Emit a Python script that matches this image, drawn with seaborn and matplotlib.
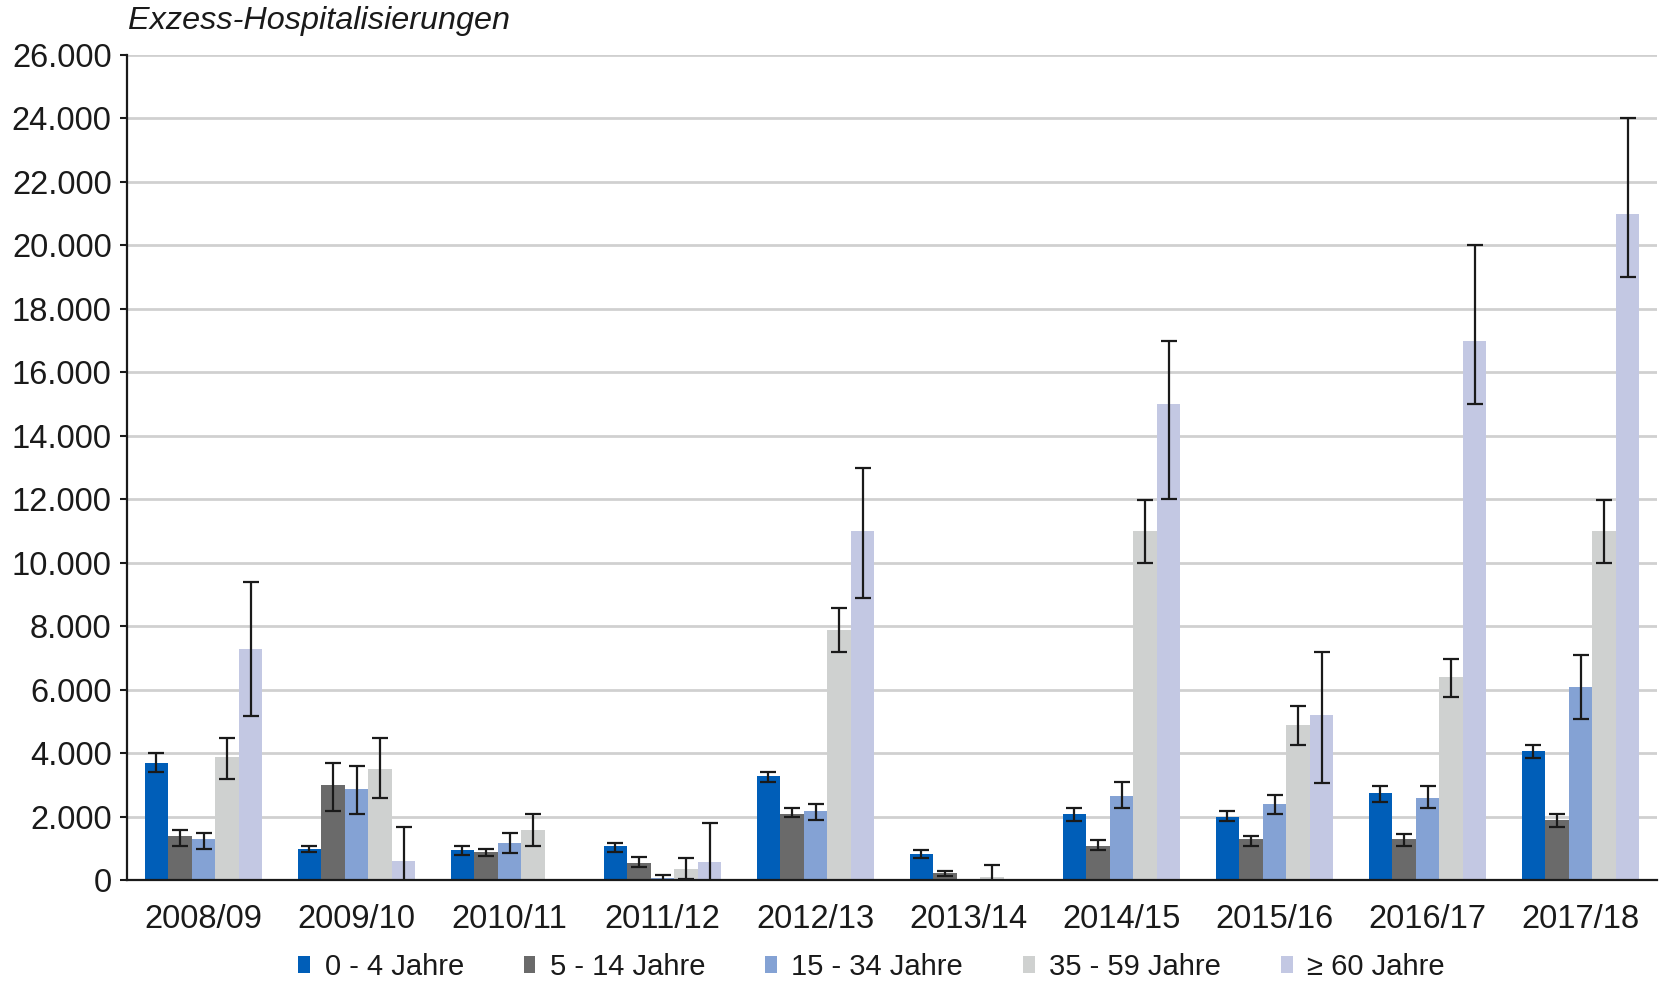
import numpy as np
import pandas as pd
import matplotlib
matplotlib.use("Agg")
import matplotlib.pyplot as plt
from matplotlib.ticker import FuncFormatter, FixedLocator
from matplotlib.patches import Patch
import seaborn as sns

# Daten
seasons = ["2008/09", "2009/10", "2010/11", "2011/12", "2012/13",
           "2013/14", "2014/15", "2015/16", "2016/17", "2017/18"]
groups = ["0 - 4 Jahre", "5 - 14 Jahre", "15 - 34 Jahre", "35 - 59 Jahre", "\u2265 60 Jahre"]

val_0_4 = [3700, 970, 930, 1070, 3280, 820, 2070, 2000, 2750, 4080]
lo_0_4 = [3400, 870, 790, 890, 3100, 680, 1860, 1860, 2470, 3860]
hi_0_4 = [4000, 1080, 1080, 1180, 3390, 930, 2270, 2170, 2970, 4270]

val_5_14 = [1390, 2980, 870, 550, 2080, 210, 1060, 1280, 1280, 1880]
lo_5_14 = [1080, 2170, 760, 400, 2000, 140, 950, 1070, 1070, 1660]
hi_5_14 = [1580, 3690, 980, 710, 2280, 270, 1270, 1380, 1460, 2080]

val_15_34 = [1280, 2870, 1170, 50, 2180, 0, 2660, 2390, 2580, 6070]
lo_15_34 = [980, 2080, 840, -70, 1890, np.nan, 2260, 2070, 2260, 5070]
hi_15_34 = [1470, 3580, 1470, 170, 2390, np.nan, 3090, 2670, 2970, 7090]

val_35_59 = [3870, 3490, 1580, 360, 7870, 100, 10990, 4880, 6390, 10990]
lo_35_59 = [3180, 2570, 1080, 30, 7170, -300, 9990, 4270, 5780, 9990]
hi_35_59 = [4470, 4470, 2080, 690, 8580, 480, 11990, 5470, 6980, 11990]

val_60 = [7280, 590, 0, 570, 11000, 0, 15000, 5190, 17000, 21000]
lo_60 = [5170, -500, np.nan, -660, 8900, np.nan, 12000, 3060, 15000, 19000]
hi_60 = [9380, 1680, np.nan, 1800, 12980, np.nan, 17000, 7180, 20000, 24000]

colors = ["#005EB8", "#6A6A6A", "#84A2D4", "#CFD1D0", "#C3C8E3"]

values = [val_0_4, val_5_14, val_15_34, val_35_59, val_60]
lows = [lo_0_4, lo_5_14, lo_15_34, lo_35_59, lo_60]
highs = [hi_0_4, hi_5_14, hi_15_34, hi_35_59, hi_60]

rows = []
for g, vals, los, his in zip(groups, values, lows, highs):
    for s, v, lo, hi in zip(seasons, vals, los, his):
        rows.append({"saison": s, "alter": g, "wert": v, "lo": lo, "hi": hi})
df = pd.DataFrame(rows)

sns.set_style("white")
plt.rcParams["font.family"] = ["Liberation Sans", "DejaVu Sans"]

fig, ax = plt.subplots(figsize=(16.6, 9.81), dpi=100)
fig.subplots_adjust(left=127 / 1660, right=1657 / 1660, top=1 - 55 / 981, bottom=1 - 880 / 981)

sns.barplot(data=df, x="saison", y="wert", hue="alter", order=seasons, hue_order=groups,
            palette=colors, width=0.77, errorbar=None, saturation=1, ax=ax, zorder=2,
            linewidth=0)

# Fehlerbalken
for cont, g in zip(ax.containers, groups):
    sub = df[df["alter"] == g].set_index("saison").loc[seasons]
    xs = [p.get_x() + p.get_width() / 2 for p in cont.patches]
    yerr = np.array([sub["wert"] - sub["lo"], sub["hi"] - sub["wert"]])
    ax.errorbar(xs, sub["wert"], yerr=yerr, fmt="none", ecolor="#1a1a1a",
                elinewidth=1.6, capsize=5.5, capthick=1.6, zorder=3)

ax.set_ylim(0, 26000)
ax.set_xlim(-0.5, len(seasons) - 0.5)
ax.set_yticks(np.arange(0, 26001, 2000))
ax.yaxis.set_major_formatter(FuncFormatter(lambda v, p: f"{int(v):,}".replace(",", ".")))
ax.grid(axis="y", color="#d0d0d0", linewidth=2, zorder=0)
ax.set_axisbelow(True)

ax.xaxis.set_minor_locator(FixedLocator(np.arange(-0.5, len(seasons), 1.0)))
ax.tick_params(axis="x", which="major", length=0, pad=17, labelsize=23.5, colors="#1a1a1a")
ax.tick_params(axis="x", which="minor", length=7, width=1.5, color="#1a1a1a", direction="out")
ax.tick_params(axis="y", which="major", length=5, width=1.5, color="#1a1a1a",
               direction="out", labelsize=23.5, labelcolor="#1a1a1a", pad=6, left=True)

for side in ["top", "right"]:
    ax.spines[side].set_visible(False)
for side in ["left", "bottom"]:
    ax.spines[side].set_color("#1a1a1a")
    ax.spines[side].set_linewidth(1.6)

ax.set_xlabel("")
ax.set_ylabel("")

fig.text(128 / 1660, 1 - 21 / 981, "Exzess-Hospitalisierungen", fontsize=23.3,
         style="italic", va="center", ha="left", color="#1a1a1a")

if ax.get_legend() is not None:
    ax.get_legend().remove()
handles = [Patch(facecolor=c, edgecolor="none") for c in colors]
fig.legend(handles, groups, loc="center", bbox_to_anchor=(0.525, 1 - 967 / 981), ncol=5,
           frameon=False, fontsize=21, handlelength=0.4, handleheight=0.5,
           handletextpad=0.5, columnspacing=2.05, labelcolor="#1a1a1a")

fig.savefig("out.png", dpi=100)
